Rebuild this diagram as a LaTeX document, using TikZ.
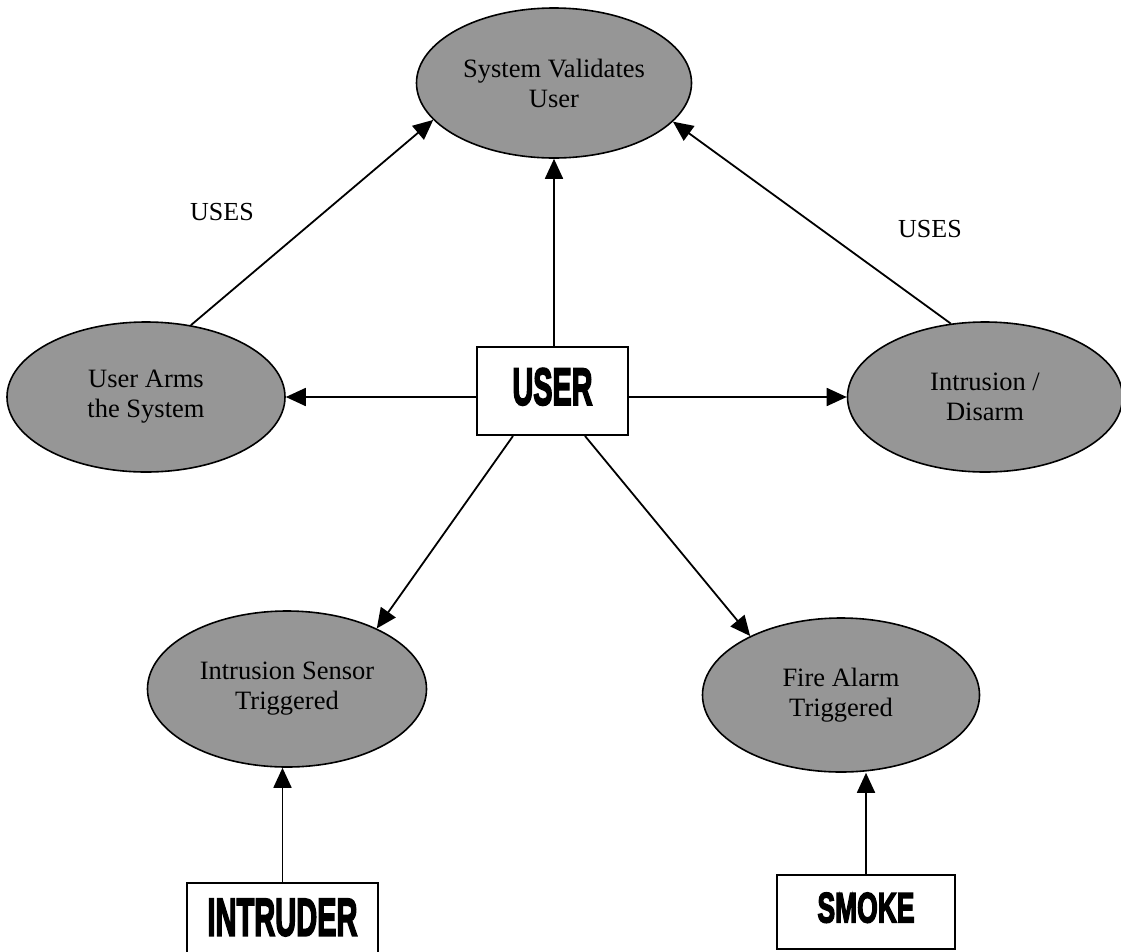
\documentclass[tikz,border=0pt]{standalone}
\usepackage{fontspec}
\setmainfont{Liberation Serif}
\newfontfamily\heavyfont{Liberation Sans}[BoldFeatures={FakeBold=4}]
\usetikzlibrary{shapes.geometric,arrows.meta}
\definecolor{casefill}{RGB}{150,150,150}
% heavy condensed lettering squeezed to a given width and height
\newcommand\blocktext[3]{\resizebox*{#1}{#2}{\heavyfont\bfseries #3}}
\tikzset{
  usecase/.style={ellipse, draw, line width=1.6pt, fill=casefill, inner sep=0pt,
    minimum height=150pt, align=center, font=\fontsize{26.5}{30}\selectfont},
  actor/.style={rectangle, draw, line width=2pt, fill=white, inner sep=0pt},
  flow/.style={line width=1.8pt, -{Triangle[length=20pt,width=18pt]}},
  note/.style={font=\fontsize{26}{30}\selectfont}
}
\begin{document}
\begin{tikzpicture}[x=1pt, y=-1pt]
  \useasboundingbox (0,0) rectangle (1121,951);
  \clip (0,0) rectangle (1121,951);

  % use cases
  \node[usecase, minimum width=275pt] (sv) at (554,83) {System Validates\\User};
  \node[usecase, minimum width=278pt] (ua) at (146,397) {User Arms\\the System};
  \node[usecase, minimum width=275pt] (id) at (985,397) {Intrusion /\\Disarm};
  \node[usecase, minimum width=279pt, minimum height=156pt] (is) at (287,689) {Intrusion Sensor\\Triggered};
  \node[usecase, minimum width=277pt, minimum height=154pt] (fa) at (841,695) {Fire Alarm\\Triggered};

  % actors
  \node[actor, minimum width=151pt, minimum height=88pt, text depth=9pt] (user) at (552.5,391)
    {\blocktext{80pt}{37pt}{USER}};
  \node[actor, anchor=north, minimum width=191pt, inner ysep=16pt, text depth=14pt] (intr) at (282.5,882)
    {\blocktext{150pt}{37pt}{INTRUDER}};
  \node[actor, minimum width=178pt, minimum height=74pt, text depth=9pt] (smoke) at (866,912)
    {\blocktext{97pt}{30pt}{SMOKE}};

  % labels
  \node[note] (uses1) at (222,212) {USES};
  \node[note] (uses2) at (930,229) {USES};

  % connectors
  \draw[flow] (user.north -| sv.south) -- (sv.south);
  \draw[flow] (ua.58.6) -- (sv.197.5);
  \draw[flow] (id.115) -- (sv.-18.3);
  \draw[flow] ([yshift=-6pt]user.west) -- (ua.east);
  \draw[flow] ([yshift=-6pt]user.east) -- (id.west);
  \draw[flow] ([xshift=-39.5pt]user.south) -- (is.34);
  \draw[flow] ([xshift=32.5pt]user.south) -- (fa.147);
  \draw[flow] (intr.north) -- (intr.north |- is.south);
  \draw[flow] (smoke.north) -- (smoke.north |- fa.south);
\end{tikzpicture}
\end{document}
